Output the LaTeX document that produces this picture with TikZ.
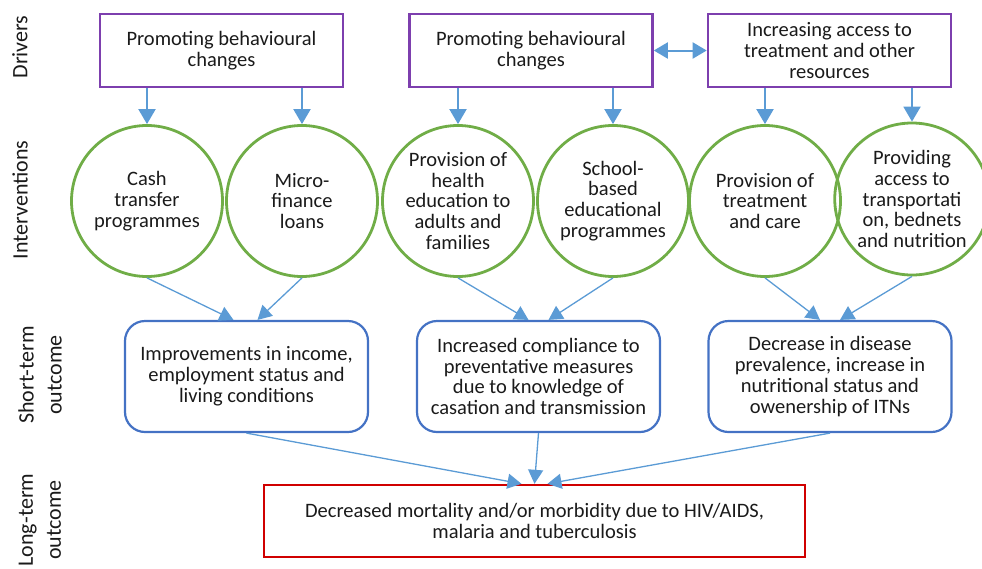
\documentclass[tikz,border=0pt]{standalone}
\usepackage{fontspec}
\setmainfont{Carlito}
\usetikzlibrary{arrows.meta,calc,shapes.geometric}
\definecolor{drvpurple}{HTML}{7D3FAE}
\definecolor{intgreen}{HTML}{70AD47}
\definecolor{outblue}{HTML}{4472C4}
\definecolor{arrblue}{HTML}{5B9BD5}
\definecolor{ltred}{HTML}{D00000}
\definecolor{txt}{HTML}{1A1A1A}
\tikzset{
  every node/.style={text=txt, font=\fontsize{20.5}{20.8}\selectfont, align=center, inner sep=0pt},
  driverbox/.style={draw=drvpurple, line width=2.6pt, minimum width=243pt, minimum height=73pt},
  intcircle/.style={draw=intgreen, line width=2.8pt, circle, minimum size=151pt},
  shortbox/.style={draw=outblue, line width=2.2pt, rounded corners=20pt, minimum width=243pt, minimum height=111pt},
  longbox/.style={draw=ltred, line width=2.4pt, minimum width=541pt, minimum height=72pt},
  sidelabel/.style={rotate=90, font=\fontsize{22}{28}\selectfont},
  bigarrow/.style={draw=arrblue, line width=2pt, -{Triangle[width=17pt,length=15pt]}, fill=arrblue},
  dblarrow/.style={draw=arrblue, line width=2pt, {Triangle[width=16pt,length=14pt]}-{Triangle[width=16pt,length=14pt]}},
  thinarrow/.style={draw=arrblue, line width=1.3pt, -{Triangle[width=15pt,length=14pt]}},
}
\begin{document}
\begin{tikzpicture}[x=1pt,y=-1pt]
\useasboundingbox (0,0) rectangle (982,568);
% side labels
\node[sidelabel] (lbdrv) at (20,47) {Drivers};
\node[sidelabel] (lbint) at (20,200) {Interventions};
\node[sidelabel] (lbshort) at (40,375) {Short-term\\outcome};
\node[sidelabel] (lblong) at (40,520) {Long-term\\outcome};
% drivers
\node[driverbox] (d1) at (221.5,50.5) {Promoting behavioural\\changes};
\node[driverbox] (d2) at (531,50.5) {Promoting behavioural\\changes};
\node[driverbox] (d3) at (829.5,50.5) {Increasing access to\\treatment and other\\resources};
% interventions
\node[intcircle] (c1) at (147,201) {Cash\\transfer\\programmes};
\node[intcircle] (c2) at (302,201) {Micro-\\finance\\loans};
\node[intcircle] (c3) at (458,201) {Provision of\\health\\education to\\adults and\\families};
\node[intcircle] (c4) at (613,201) {School-\\based\\educational\\programmes};
\node[intcircle] (c5) at (765,201) {Provision of\\treatment\\and care};
\node[draw=intgreen, line width=2.8pt, ellipse, minimum width=137pt, minimum height=152pt] (c6) at (912,199) {Providing\\access to\\transportati\\on, bednets\\and nutrition};
% short-term
\node[shortbox] (sA) at (246.5,376.5) {Improvements in income,\\employment status and\\living conditions};
\node[shortbox] (sB) at (538.5,376.5) {Increased compliance to\\preventative measures\\due to knowledge of\\casation and transmission};
\node[shortbox] (sC) at (830,376.5) {Decrease in disease\\prevalence, increase in\\nutritional status and\\owenership of ITNs};
% long-term
\node[longbox] (L) at (534.5,521) {Decreased mortality and/or morbidity due to HIV/AIDS,\\malaria and tuberculosis};
% driver arrows
\draw[bigarrow] (d1.south -| c1.north) -- (c1.north);
\draw[bigarrow] (d1.south -| c2.north) -- (c2.north);
\draw[bigarrow] (d2.south -| c3.north) -- (c3.north);
\draw[bigarrow] (d2.south -| c4.north) -- (c4.north);
\draw[bigarrow] (d3.south -| c5.north) -- (c5.north);
\draw[bigarrow] (d3.south -| c6.north) -- (c6.north);
\draw[dblarrow] (d2.east) -- (d3.west);
% intervention -> short-term
\draw[thinarrow] (c1.south) -- ($(sA.north)+(-13,0)$);
\draw[thinarrow] (c2.south) -- ($(sA.north)+(11,0)$);
\draw[thinarrow] (c3.south) -- ($(sB.north)+(-10,0)$);
\draw[thinarrow] (c4.south) -- ($(sB.north)+(10,0)$);
\draw[thinarrow] (c5.south) -- ($(sC.north)+(-10,0)$);
\draw[thinarrow] (c6.south) -- ($(sC.north)+(10,0)$);
% short-term -> long-term
\draw[thinarrow] (sA.south) -- ($(L.north)+(-13,0)$);
\draw[thinarrow] (sB.south) -- (L.north);
\draw[thinarrow] (sC.south) -- ($(L.north)+(13,0)$);
\end{tikzpicture}
\end{document}
